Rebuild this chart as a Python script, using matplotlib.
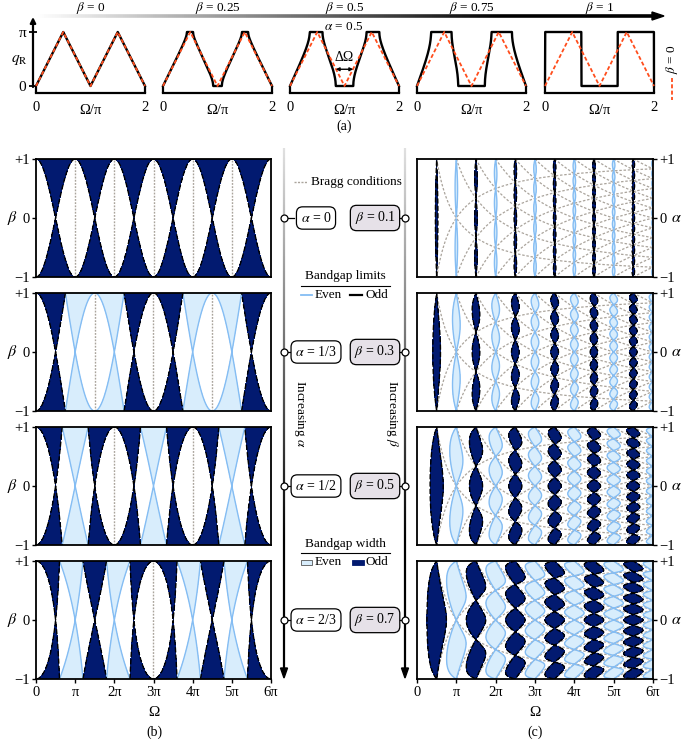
import numpy as np
import matplotlib
matplotlib.use('Agg')
import matplotlib.pyplot as plt
from matplotlib.collections import LineCollection
from matplotlib.patches import Rectangle, Polygon

plt.rcParams['font.family'] = ['Liberation Serif', 'DejaVu Serif']
plt.rcParams['mathtext.fontset'] = 'stix'
plt.rcParams['font.size'] = 9.5

W, H = 682, 739

# (a) dispersion at alpha = 0.5 for several beta
alpha_a = 0.5
betas_a = [0, 0.25, 0.5, 0.75, 1]
beta_a_txt = ['0', '0.25', '0.5', '0.75', '1']
a_left = [36, 163, 290, 417, 545]

# (b) bandgaps vs beta at fixed alpha, (c) vs alpha at fixed beta
alphas_b = [0, 1/3, 1/2, 2/3]
alpha_txt = ['0', '1/3', '1/2', '2/3']
betas_c = [0.1, 0.3, 0.5, 0.7]
beta_c_txt = ['0.1', '0.3', '0.5', '0.7']
row_top = [159, 293, 427, 561]
row_h = 118

om_ticks = [0, 1, 2, 3, 4, 5, 6]
om_labels = ['0', 'π', '2π', '3π', '4π', '5π', '6π']

dark = '#021a70'
light = '#d8edfc'
blue = '#85bdf3'
gray = '#aaa49c'
red = '#ff4d1c'


def disp(om, al, be):
    # transfer-matrix trace: cos q
    be = np.clip(be, -0.99999, 0.99999)
    K = (1 + be**2) / (1 - be**2)
    t1 = (1 + al) * om
    t2 = (1 - al) * om
    return np.cos(t1) * np.cos(t2) - K * np.sin(t1) * np.sin(t2)


def px_axes(x0, y0, w, h):
    return fig.add_axes([x0 / W, 1 - (y0 + h) / H, w / W, h / H])


def grad_line(ax, x0, y0, x1, y1, c0, c1, lw, n=300):
    t = np.linspace(0, 1, n + 1)
    xs = x0 + (x1 - x0) * t
    ys = y0 + (y1 - y0) * t
    segs = [[(xs[i], ys[i]), (xs[i + 1], ys[i + 1])] for i in range(n)]
    g = c0 + (c1 - c0) * np.clip(t[:-1] / 0.75, 0, 1)
    cols = [(v, v, v) for v in g]
    ax.add_collection(LineCollection(segs, colors=cols, linewidths=lw, capstyle='butt'))


fig = plt.figure(figsize=(W / 100, H / 100), dpi=100)

ov = fig.add_axes([0, 0, 1, 1])
ov.set_xlim(0, W)
ov.set_ylim(H, 0)
ov.axis('off')
ov.set_zorder(10)
ov.patch.set_alpha(0)

# ---------------- (a) ----------------
om = np.linspace(0, 2 * np.pi, 2401)
q0 = np.arccos(np.clip(disp(om, alpha_a, 0.0), -1, 1))
for i, b in enumerate(betas_a):
    ax = px_axes(a_left[i], 32, 109, 54)
    q = np.arccos(np.clip(disp(om, alpha_a, b), -1, 1))
    ax.plot(om / np.pi, q, color='black', lw=1.7, clip_on=False, zorder=2)
    ax.plot(om / np.pi, q0, color=red, lw=1.3, ls=(0, (2.2, 1.3)), clip_on=False, zorder=3)
    ax.set_xlim(0, 2)
    ax.set_ylim(0, np.pi)
    ax.patch.set_alpha(0)
    for s in ['top', 'right', 'left']:
        ax.spines[s].set_visible(False)
    ax.spines['bottom'].set_position(('outward', 5))
    ax.spines['bottom'].set_linewidth(1.6)
    ax.set_xticks([0, 2])
    ax.set_xticklabels(['0', '2'], fontsize=10.5)
    ax.tick_params(axis='x', direction='in', length=4, width=1.6, pad=6)
    if i == 0:
        ax.spines['left'].set_position(('outward', 2))
        ax.set_yticks([0, np.pi])
        ax.set_yticklabels(['0', 'π'], fontsize=11)
        ax.tick_params(axis='y', direction='inout', length=6, width=1.3, pad=2)
    else:
        ax.set_yticks([])
    ov.text(a_left[i] + 54.5, 110, 'Ω/π', ha='center', va='center', fontsize=10.5)
    ov.text(a_left[i] + 54.5, 7.5, r'$\beta$ = %s' % beta_a_txt[i], ha='center', va='center', fontsize=9.5)
    if b == 0.5:
        # gap width around Omega = pi
        zero = np.where((q < 1e-6) & (np.abs(om - np.pi) < 0.6 * np.pi))[0]
        e0, e1 = om[zero[0]] / np.pi, om[zero[-1]] / np.pi
        ax.annotate('', xy=(e0, 0.31 * np.pi), xytext=(e1, 0.31 * np.pi),
                    arrowprops=dict(arrowstyle='<|-|>', lw=1.0, color='black',
                                    mutation_scale=5, shrinkA=0, shrinkB=0))
        ax.text(1.0, 0.52 * np.pi, 'ΔΩ', ha='center', va='center', fontsize=10)

ov.annotate('', xy=(33, 17), xytext=(33, 87),
            arrowprops=dict(arrowstyle='-|>', lw=1.6, color='black', mutation_scale=8,
                            shrinkA=0, shrinkB=0))
ov.text(19, 60, r'$q_\mathrm{R}$', ha='center', va='center', fontsize=11)
ov.text(344, 27, r'$\alpha$ = 0.5', ha='center', va='center', fontsize=9.5)
ov.text(344, 126, '(a)', ha='center', va='center', fontsize=10)

# top gradient arrow
grad_line(ov, 36, 16, 654, 16, 1.0, 0.0, 2.6)
ov.add_patch(Polygon([(664, 16), (652, 12), (652, 20)], closed=True, color='black'))

# red legend for beta = 0
ov.plot([672, 672], [78, 100], color=red, lw=1.3, ls=(0, (2.2, 1.3)))
ov.text(672, 74, r'$\beta$ = 0', rotation=90, ha='center', va='bottom', fontsize=9.5)

# ---------------- (b) ----------------
omb = np.linspace(1e-4, 6 * np.pi, 1500)
bb = np.linspace(-1, 1, 500)
OB, BB = np.meshgrid(omb, bb)
for r, al in enumerate(alphas_b):
    ax = px_axes(36, row_top[r], 235, row_h)
    Fv = np.clip(disp(OB, al, BB), -5, 5)
    ax.contourf(OB / np.pi, BB, Fv, levels=[1, 10], colors=[light], zorder=1)
    ax.contourf(OB / np.pi, BB, Fv, levels=[-10, -1], colors=[dark], zorder=3)
    ax.contour(OB / np.pi, BB, Fv, levels=[1], colors=[blue], linewidths=1.0, zorder=4)
    ax.contour(OB / np.pi, BB, Fv, levels=[-1], colors=['black'], linewidths=1.0, zorder=5)
    m = 1
    while m / (1 - al) < 6 - 1e-6:
        ax.axvline(m / (1 - al), color=gray, lw=1.0, ls=(0, (1.3, 1.0)), zorder=2)
        m += 1
    ax.set_xlim(0, 6)
    ax.set_ylim(-1, 1)
    for s in ax.spines.values():
        s.set_linewidth(1.3)
        s.set_zorder(6)
    ax.set_yticks([-1, 0, 1])
    ax.set_yticklabels(['−1', '0', '+1'], fontsize=10.5)
    ax.tick_params(axis='y', direction='out', length=3, width=1.0, pad=1.5)
    if r == 3:
        ax.set_xticks(om_ticks)
        ax.set_xticklabels(om_labels, fontsize=10.5)
        ax.tick_params(axis='x', direction='out', length=3, width=1.0, pad=2)
    else:
        ax.set_xticks([])
    ov.text(12, row_top[r] + row_h / 2, r'$\beta$', ha='center', va='center', fontsize=11.5)

ov.text(154, 712, 'Ω', ha='center', va='center', fontsize=11)
ov.text(154, 732, '(b)', ha='center', va='center', fontsize=10)

# ---------------- (c) ----------------
omc = np.linspace(1e-4, 6 * np.pi, 1600)
ac = np.linspace(-1, 1, 600)
OC, AC = np.meshgrid(omc, ac)
for r, be in enumerate(betas_c):
    ax = px_axes(417, row_top[r], 236, row_h)
    Fv = np.clip(disp(OC, AC, be), -5, 5)
    ax.contourf(OC / np.pi, AC, Fv, levels=[1, 10], colors=[light], zorder=1)
    ax.contourf(OC / np.pi, AC, Fv, levels=[-10, -1], colors=[dark], zorder=3)
    ax.contour(OC / np.pi, AC, Fv, levels=[1], colors=[blue], linewidths=1.0, zorder=4)
    ax.contour(OC / np.pi, AC, Fv, levels=[-1], colors=['black'], linewidths=1.0, zorder=5)
    for n in range(1, 13):
        w = np.linspace(n * np.pi / 2, 6 * np.pi, 400)
        ax.plot(w / np.pi, n * np.pi / w - 1, color=gray, lw=0.9, ls=(0, (2.0, 1.4)), zorder=2)
        ax.plot(w / np.pi, 1 - n * np.pi / w, color=gray, lw=0.9, ls=(0, (2.0, 1.4)), zorder=2)
    ax.set_xlim(0, 6)
    ax.set_ylim(-1, 1)
    for s in ax.spines.values():
        s.set_linewidth(1.3)
        s.set_zorder(6)
    ax.yaxis.tick_right()
    ax.set_yticks([-1, 0, 1])
    ax.set_yticklabels(['−1', '0', '+1'], fontsize=10.5)
    ax.tick_params(axis='y', direction='out', length=3, width=1.0, pad=1.5)
    if r == 3:
        ax.set_xticks(om_ticks)
        ax.set_xticklabels(om_labels, fontsize=10.5)
        ax.tick_params(axis='x', direction='out', length=3, width=1.0, pad=2)
    else:
        ax.set_xticks([])
    ov.text(676, row_top[r] + row_h / 2, r'$\alpha$', ha='center', va='center', fontsize=11.5)

ov.text(535, 712, 'Ω', ha='center', va='center', fontsize=11)
ov.text(535, 732, '(c)', ha='center', va='center', fontsize=10)

# ---------------- middle column ----------------
for xa in [284, 405]:
    grad_line(ov, xa, 148, xa, 669, 0.88, 0.0, 1.6)
    ov.add_patch(Polygon([(xa, 678), (xa - 3.5, 668), (xa + 3.5, 668)], closed=True, color='black'))

for r in range(4):
    yc = row_top[r] + row_h / 2
    ov.plot([284, 294], [yc, yc], color='black', lw=0.9)
    ov.plot([397, 405], [yc, yc], color='black', lw=0.9)
    ov.plot([284], [yc], 'o', ms=5, mfc='white', mec='black', mew=0.9)
    ov.plot([405], [yc], 'o', ms=5, mfc='white', mec='black', mew=0.9)
    ov.text(316, yc, r'$\alpha$ = %s' % alpha_txt[r], ha='center', va='center', fontsize=10,
            bbox=dict(boxstyle='round,pad=0.3,rounding_size=0.45', fc='white', ec='black', lw=0.9))
    ov.text(375, yc, r'$\beta$ = %s' % beta_c_txt[r], ha='center', va='center', fontsize=10,
            bbox=dict(boxstyle='round,pad=0.3,rounding_size=0.45', fc='#e6e1e8', ec='black', lw=0.9))

ov.plot([294, 307], [182, 182], color=gray, lw=1.0, ls=(0, (1.5, 1.0)))
ov.text(311, 182, 'Bragg conditions', ha='left', va='center', fontsize=9.5)

ov.text(345, 276, 'Bandgap limits', ha='center', va='center', fontsize=9.5)
ov.plot([301, 390], [286, 286], color='black', lw=0.8)
ov.plot([301, 312], [295, 295], color=blue, lw=1.3)
ov.text(315, 295, 'Even', ha='left', va='center', fontsize=9.5)
ov.plot([350, 362], [295, 295], color='black', lw=1.6)
ov.text(365, 295, 'Odd', ha='left', va='center', fontsize=9.5)

ov.text(345, 544, 'Bandgap width', ha='center', va='center', fontsize=9.5)
ov.plot([301, 390], [553, 553], color='black', lw=0.8)
ov.add_patch(Rectangle((301, 559.5), 11, 5, fc=light, ec='#555555', lw=0.6))
ov.text(315, 562, 'Even', ha='left', va='center', fontsize=9.5)
ov.add_patch(Rectangle((352, 559.5), 12, 5, fc=dark, ec=dark, lw=0.6))
ov.text(366, 562, 'Odd', ha='left', va='center', fontsize=9.5)

ov.text(300, 414, r'Increasing $\alpha$', rotation=270, ha='center', va='center', fontsize=9.5)
ov.text(392, 414, r'Increasing $\beta$', rotation=270, ha='center', va='center', fontsize=9.5)

fig.savefig('out.png', dpi=100)
